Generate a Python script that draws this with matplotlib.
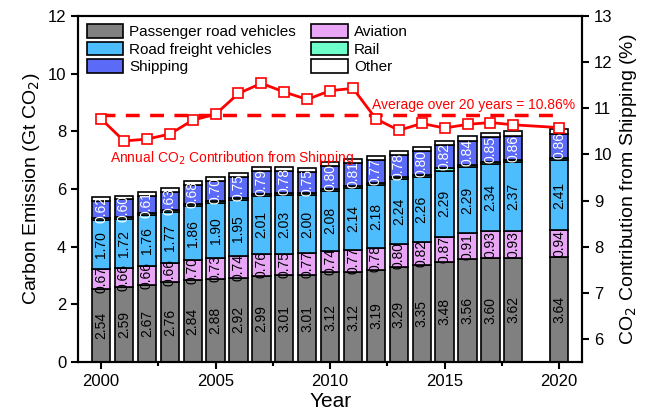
import matplotlib.pyplot as plt
import numpy as np
from matplotlib.ticker import MultipleLocator

plt.rcParams["font.family"] = ["Liberation Sans", "DejaVu Sans"]

# data (Gt CO2)
years = [2000, 2001, 2002, 2003, 2004, 2005, 2006, 2007, 2008, 2009,
         2010, 2011, 2012, 2013, 2014, 2015, 2016, 2017, 2018, 2020]
passenger = [2.54, 2.59, 2.67, 2.76, 2.84, 2.88, 2.92, 2.99, 3.01, 3.01,
             3.12, 3.12, 3.19, 3.29, 3.35, 3.48, 3.56, 3.60, 3.62, 3.64]
aviation = [0.67, 0.66, 0.66, 0.66, 0.70, 0.73, 0.74, 0.76, 0.75, 0.77,
            0.74, 0.77, 0.78, 0.80, 0.82, 0.87, 0.91, 0.93, 0.93, 0.94]
freight = [1.70, 1.72, 1.76, 1.77, 1.86, 1.90, 1.95, 2.01, 2.03, 2.00,
           2.08, 2.14, 2.18, 2.24, 2.26, 2.29, 2.29, 2.34, 2.37, 2.41]
rail = [0.07, 0.07, 0.07, 0.07, 0.07, 0.07, 0.07, 0.07, 0.07, 0.07,
        0.07, 0.07, 0.07, 0.07, 0.07, 0.07, 0.07, 0.07, 0.07, 0.07]
shipping = [0.62, 0.60, 0.61, 0.63, 0.68, 0.70, 0.75, 0.79, 0.78, 0.75,
            0.80, 0.81, 0.77, 0.78, 0.80, 0.82, 0.84, 0.85, 0.86, 0.86]
other = [0.12, 0.12, 0.13, 0.13, 0.13, 0.13, 0.13, 0.13, 0.13, 0.13,
         0.13, 0.13, 0.14, 0.14, 0.14, 0.14, 0.15, 0.15, 0.15, 0.15]
# annual shipping share (%)
share = [10.77, 10.29, 10.33, 10.44, 10.74, 10.87, 11.32, 11.54, 11.35, 11.19,
         11.38, 11.43, 10.77, 10.52, 10.67, 10.57, 10.65, 10.69, 10.64, 10.58]
avg_share = 10.86

fig = plt.figure(figsize=(6.46, 4.19), dpi=100)
ax = fig.add_axes([0.121, 0.136, 0.780, 0.826])

# stack order: passenger, aviation, freight, rail, shipping, other
layers = [
    ("Passenger road vehicles", passenger, "#808080", "black"),
    ("Aviation", aviation, "#E9A6F7", "black"),
    ("Road freight vehicles", freight, "#4DBDFD", "black"),
    ("Rail", rail, "#6FFFCB", None),
    ("Shipping", shipping, "#5B6BF8", "white"),
    ("Other", other, "white", None),
]
handles = {}
bottom = np.zeros(len(years))
for name, vals, color, txtcol in layers:
    vals = np.array(vals)
    b = ax.bar(years, vals, width=0.8, bottom=bottom, color=color,
               edgecolor="black", linewidth=1.2, label=name, zorder=2)
    handles[name] = b
    if txtcol is not None:
        for x, y0, v in zip(years, bottom, vals):
            ax.text(x, y0 + v / 2, "%.2f" % v, rotation=90, ha="center",
                    va="center", fontsize=10, color=txtcol, zorder=3)
    bottom += vals

ax.set_xlim(1999, 2021)
ax.set_ylim(0, 12)
ax.xaxis.set_major_locator(MultipleLocator(5))
ax.xaxis.set_minor_locator(MultipleLocator(2.5))
ax.yaxis.set_major_locator(MultipleLocator(2))
ax.tick_params(which="major", direction="out", length=5, width=1.5, labelsize=12)
ax.tick_params(which="minor", direction="out", length=3, width=1.5)
for s in ax.spines.values():
    s.set_linewidth(1.5)
ax.set_xlabel("Year", fontsize=15, labelpad=2)
ax.set_ylabel("Carbon Emission (Gt CO$_2$)", fontsize=14)

order = ["Passenger road vehicles", "Road freight vehicles", "Shipping",
         "Aviation", "Rail", "Other"]
ax.legend([handles[n] for n in order], order, ncol=2, loc="upper left",
          frameon=False, fontsize=11, handlelength=2.4, handleheight=1.0,
          borderaxespad=0.15, labelspacing=0.15, columnspacing=1.0,
          handletextpad=0.4)

ax2 = ax.twinx()
ax2.set_ylim(5.5, 13)
ax2.yaxis.set_major_locator(MultipleLocator(1))
ax2.tick_params(direction="out", length=5, width=1.5, labelsize=12)
for s in ax2.spines.values():
    s.set_linewidth(1.5)
ax2.set_ylabel("CO$_2$ Contribution from Shipping (%)", fontsize=14)
ax2.plot(years, share, color="red", linewidth=2, marker="s", markersize=7,
         markerfacecolor="white", markeredgecolor="red", markeredgewidth=1.2,
         zorder=5)
ax2.plot([years[0], years[-1]], [avg_share, avg_share], color="red",
         linewidth=2.5, linestyle=(0, (4, 3)), zorder=4)
ax2.text(2020.7, 11.08, "Average over 20 years = %.2f%%" % avg_share,
         color="red", fontsize=10, ha="right", va="center")
ax2.text(2000.4, 9.93, "Annual CO$_2$ Contribution from Shipping",
         color="red", fontsize=10, ha="left", va="center")

fig.savefig("out.png", dpi=100)
